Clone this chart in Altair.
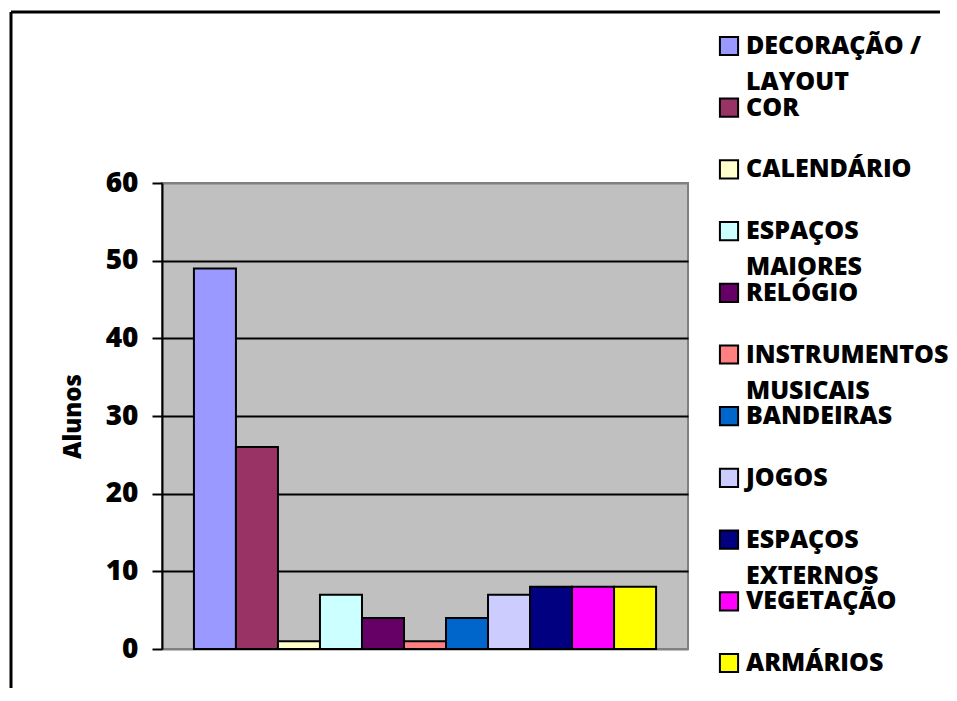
import altair as alt
import pandas as pd

categories = ["DECORAÇÃO / LAYOUT", "COR", "CALENDÁRIO", "ESPAÇOS MAIORES", "RELÓGIO",
              "INSTRUMENTOS MUSICAIS", "BANDEIRAS", "JOGOS", "ESPAÇOS EXTERNOS",
              "VEGETAÇÃO", "ARMÁRIOS"]
line1 = ["DECORAÇÃO /", "COR", "CALENDÁRIO", "ESPAÇOS", "RELÓGIO", "INSTRUMENTOS",
         "BANDEIRAS", "JOGOS", "ESPAÇOS", "VEGETAÇÃO", "ARMÁRIOS"]
line2 = ["LAYOUT", "", "", "MAIORES", "", "MUSICAIS", "", "", "EXTERNOS", "", ""]
values = [49, 26, 1, 7, 4, 1, 4, 7, 8, 8, 8]
colors = ["#9999FF", "#993366", "#FFFFCC", "#CCFFFF", "#660066", "#FF8080",
          "#0066CC", "#CCCCFF", "#000080", "#FF00FF", "#FFFF00"]
y_ticks = [0, 10, 20, 30, 40, 50, 60]

df = pd.DataFrame({"cat": categories, "value": values, "l1": line1, "l2": line2})

FONT = "Open Sans"
WEIGHT = 800
W, H = 526, 466

color = alt.Color("cat:N", scale=alt.Scale(domain=categories, range=colors), legend=None)

bars = alt.Chart(df).mark_bar(stroke="black", strokeWidth=2).encode(
    x=alt.X("cat:N", sort=categories, axis=None,
            scale=alt.Scale(paddingInner=0, paddingOuter=0.76)),
    y=alt.Y("value:Q", title="Alunos",
            scale=alt.Scale(domain=[0, 60]),
            axis=alt.Axis(values=y_ticks, grid=True,
                          gridColor=alt.condition("datum.value == 0 || datum.value == 60",
                                                  alt.value("#808080"), alt.value("black")),
                          gridWidth=2, domainColor="black", domainWidth=2,
                          tickColor="black", tickWidth=2, tickSize=10,
                          labelFont=FONT, labelFontSize=28, labelFontWeight=WEIGHT,
                          labelColor="black", labelPadding=14,
                          titleFont=FONT, titleFontSize=24, titleFontWeight=WEIGHT,
                          titleColor="black", titlePadding=20)),
    color=color,
)

leg_y = alt.Y("cat:N", sort=categories, axis=None,
              scale=alt.Scale(type="point", range=[-137, 480], padding=0))

squares = alt.Chart(df).mark_square(size=330, stroke="black", strokeWidth=2, opacity=1).encode(
    x=alt.value(567), y=leg_y, color=color)

text1 = alt.Chart(df).mark_text(align="left", baseline="middle", font=FONT, fontSize=25,
                                fontWeight=WEIGHT, color="black").encode(
    x=alt.value(584), y=leg_y, text="l1:N")
text2 = alt.Chart(df).mark_text(align="left", baseline="middle", font=FONT, fontSize=25,
                                fontWeight=WEIGHT, color="black", dy=36).encode(
    x=alt.value(584), y=leg_y, text="l2:N")

frame_top = alt.Chart(df.head(1)).mark_rule(color="black", strokeWidth=3).encode(
    x=alt.value(-151), x2=alt.value(778), y=alt.value(-171))
frame_left = alt.Chart(df.head(1)).mark_rule(color="black", strokeWidth=3).encode(
    x=alt.value(-151), y=alt.value(-171), y2=alt.value(505))

legend = alt.layer(squares, text1, text2)

chart = alt.layer(bars, legend, frame_top, frame_left).resolve_scale(
    y="independent", x="independent"
).properties(
    width=W, height=H, padding={"left": 1, "top": 2, "right": 0, "bottom": 0},
    view=alt.ViewBackground(fill="#C0C0C0", stroke="#808080", strokeWidth=2)
).configure(background="white")

chart.save("out.html", embed_options={"renderer": "svg", "actions": False})
